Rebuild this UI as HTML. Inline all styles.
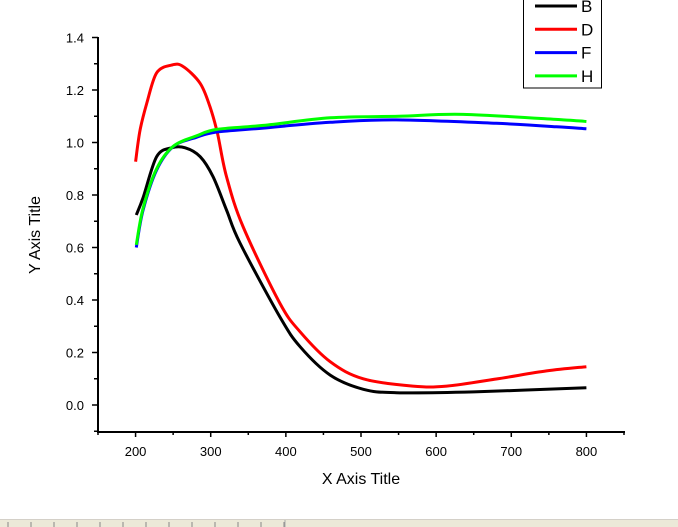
<!DOCTYPE html>
<html><head><meta charset="utf-8"><style>
html,body{margin:0;padding:0;background:#fff;width:678px;height:527px;overflow:hidden}
svg{display:block;font-family:"Liberation Sans",sans-serif}
</style></head><body>
<svg id="chart" width="678" height="527">
<rect x="0" y="519" width="678" height="8" fill="#ece9d8"/>
<line x1="0" y1="519.5" x2="678" y2="519.5" stroke="#d4d0c8"/>
<g id="statusTicks"></g>
<g id="axes"></g>
<g id="series"></g>
<g>
<rect x="523.5" y="-2" width="78" height="90" fill="#fff" stroke="#000"/>
</g>
<g id="legend"></g>
<text x="361" y="484" font-size="16" text-anchor="middle">X Axis Title</text>
<text transform="translate(40,235) rotate(-90)" font-size="16" text-anchor="middle">Y Axis Title</text>
</svg>
<script>
const xTicks=[200,300,400,500,600,700,800];
const yTicks=[0.0,0.2,0.4,0.6,0.8,1.0,1.2,1.4];
const seriesNames=["B","D","F","H"];
const xB=[201,210,228,248,266,286,303,321,339,392,419,459,503,547,650,800];
const yB=[0.724,0.79,0.946,0.98,0.98,0.946,0.87,0.743,0.617,0.336,0.222,0.114,0.06,0.047,0.05,0.066];
const xD=[200,206,215,228,248,263,286,299,309,321,343,392,419,459,503,569,614,680,747,800];
const yD=[0.927,1.048,1.15,1.265,1.295,1.29,1.225,1.136,1.035,0.87,0.68,0.388,0.279,0.165,0.10,0.072,0.072,0.099,0.13,0.146];
const xF=[201,210,228,250,281,308,370,459,547,680,760,800];
const yF=[0.6,0.743,0.895,0.984,1.02,1.04,1.055,1.077,1.086,1.073,1.06,1.052];
const xH=[201,210,228,250,281,308,370,459,550,636,769,800];
const yH=[0.61,0.75,0.9,0.985,1.025,1.05,1.065,1.094,1.10,1.107,1.086,1.08];
const colors=["#000","#f00","#00f","#0f0"];
const NS="http://www.w3.org/2000/svg";
const X=v=>98+(v-150)*(624-98)/700;
const Y=v=>405-v*262.5;
function mk(t,a,p){const e=document.createElementNS(NS,t);for(const k in a)e.setAttribute(k,a[k]);p.appendChild(e);return e;}
function smooth(pts){let d='M'+pts[0][0].toFixed(1)+','+pts[0][1].toFixed(1);
for(let i=0;i<pts.length-1;i++){const p0=pts[i-1]||pts[i],p1=pts[i],p2=pts[i+1],p3=pts[i+2]||p2;
const c1=[p1[0]+(p2[0]-p0[0])/6,p1[1]+(p2[1]-p0[1])/6],c2=[p2[0]-(p3[0]-p1[0])/6,p2[1]-(p3[1]-p1[1])/6];
d+='C'+c1.map(v=>v.toFixed(1))+' '+c2.map(v=>v.toFixed(1))+' '+p2[0].toFixed(1)+','+p2[1].toFixed(1);}
return d;}
const ax=document.getElementById('axes');
const yl=mk('line',{x1:98,y1:37,x2:98,y2:432,stroke:'#000','stroke-width':2},ax);


const xl=mk('line',{x1:97,y1:432,x2:625,y2:432,stroke:'#000','stroke-width':2},ax);


for(let v=150;v<=850;v+=50){mk('line',{x1:X(v),y1:432,x2:X(v),y2:v%100==0?437:435,stroke:'#000','stroke-width':1.5},ax);}
xTicks.forEach(v=>{const t=mk('text',{x:X(v),y:456,'font-size':13,'text-anchor':'middle'},ax);t.textContent=v;

});
for(let i=-1;i<=14;i++){const v=i/10;mk('line',{x1:i%2==0?92:94,y1:Y(v),x2:98,y2:Y(v),stroke:'#000','stroke-width':1.5},ax);}
yTicks.forEach(v=>{const t=mk('text',{x:84,y:Y(v)+5,'font-size':13,'text-anchor':'end'},ax);t.textContent=v.toFixed(1);

});
const sg=document.getElementById('series');
[[xB,yB],[xD,yD],[xF,yF],[xH,yH]].forEach((s,i)=>{
const pts=s[0].map((x,j)=>[X(x),Y(s[1][j])]);
const p=mk('path',{d:smooth(pts),fill:'none',stroke:colors[i],'stroke-width':3,'stroke-linejoin':'round'},sg);

});
const lg=document.getElementById('legend');
seriesNames.forEach((n,i)=>{const y=6+i*23.3;
const l=mk('line',{x1:535,y1:y,x2:577,y2:y,stroke:colors[i],'stroke-width':3},lg);


const t=mk('text',{x:581,y:y+6,'font-size':17},lg);t.textContent=n;

});
const st=document.getElementById('statusTicks');
for(let i=0;i<13;i++){mk('line',{x1:8+i*23,y1:522,x2:8+i*23,y2:527,stroke:'#888'},st);}
mk('line',{x1:285,y1:520,x2:285,y2:527,stroke:'#aaa'},st);
</script>
</body></html>
